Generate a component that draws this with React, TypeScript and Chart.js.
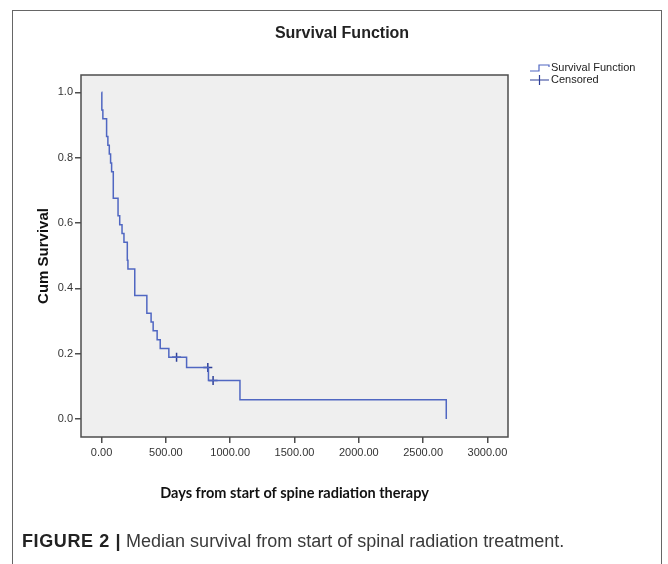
import React, { useEffect, useRef } from 'react';
import { Chart, registerables } from 'chart.js';

Chart.register(...registerables);

// Kaplan-Meier estimate: event times (days) and cumulative survival after each step
const KM_DAYS = [0, 2, 10, 39, 49, 60, 70, 78, 91, 128, 141, 159, 174, 200, 205, 258, 352, 385, 401, 432, 456, 523, 661, 831, 1076, 2680];
const KM_SURV = [1.0, 0.946, 0.919, 0.865, 0.838, 0.811, 0.784, 0.757, 0.676, 0.622, 0.595, 0.568, 0.541, 0.486, 0.459, 0.378, 0.324, 0.297, 0.27, 0.243, 0.216, 0.189, 0.158, 0.118, 0.059, 0.0];

// Censored observations
const CENSOR_DAYS = [583, 826, 867];
const CENSOR_SURV = [0.189, 0.158, 0.118];

const X_TICKS = [0, 500, 1000, 1500, 2000, 2500, 3000];
const Y_TICKS = [0, 0.2, 0.4, 0.6, 0.8, 1.0];

const SERIES_LABELS = ['Survival Function', 'Censored'];
const CHART_TITLE = 'Survival Function';
const X_TITLE = 'Days from start of spine radiation therapy';
const Y_TITLE = 'Cum Survival';
const CAPTION_BOLD = 'FIGURE 2 |';
const CAPTION_TEXT = 'Median survival from start of spinal radiation treatment.';

const LINE_COLOR = '#5067c2';
const CENSOR_COLOR = '#2d3f98';
const AXIS_COLOR = '#4d4d4d';
const PLOT_BG = '#efefef';
const SANS = "'Liberation Sans', Arial, sans-serif";

const plotDecor = {
  id: 'plotDecor',
  beforeDraw(chart: any) {
    const { ctx, chartArea: a } = chart;
    ctx.save();
    ctx.fillStyle = PLOT_BG;
    ctx.fillRect(a.left, a.top, a.right - a.left, a.bottom - a.top);
    ctx.restore();
  },
  afterDraw(chart: any) {
    const { ctx, chartArea: a } = chart;
    ctx.save();
    ctx.strokeStyle = AXIS_COLOR;
    ctx.lineWidth = 1.5;
    ctx.strokeRect(a.left, a.top, a.right - a.left, a.bottom - a.top);

    // legend
    const x0 = a.right + 22;
    const y1 = a.top - 7;
    const y2 = a.top + 5;
    ctx.lineWidth = 1.2;
    ctx.strokeStyle = LINE_COLOR;
    ctx.beginPath();
    ctx.moveTo(x0, y1 + 3);
    ctx.lineTo(x0 + 9, y1 + 3);
    ctx.lineTo(x0 + 9, y1 - 3);
    ctx.lineTo(x0 + 19, y1 - 3);
    ctx.lineTo(x0 + 19, y1 - 1);
    ctx.stroke();
    ctx.strokeStyle = CENSOR_COLOR;
    ctx.beginPath();
    ctx.moveTo(x0, y2);
    ctx.lineTo(x0 + 19, y2);
    ctx.moveTo(x0 + 9.5, y2 - 5);
    ctx.lineTo(x0 + 9.5, y2 + 5);
    ctx.stroke();
    ctx.fillStyle = '#222';
    ctx.font = `11px ${SANS}`;
    ctx.textBaseline = 'middle';
    ctx.textAlign = 'left';
    ctx.fillText(SERIES_LABELS[0], x0 + 21, y1);
    ctx.fillText(SERIES_LABELS[1], x0 + 21, y2);
    ctx.restore();
  },
};

export default function App() {
  const canvasRef = useRef<HTMLCanvasElement | null>(null);

  useEffect(() => {
    const canvas = canvasRef.current;
    if (!canvas) return;
    const chart = new Chart(canvas, {
      type: 'scatter',
      data: {
        datasets: [
          {
            label: SERIES_LABELS[0],
            data: KM_DAYS.map((d, i) => ({ x: d, y: KM_SURV[i] })),
            showLine: true,
            stepped: 'before',
            borderColor: LINE_COLOR,
            borderWidth: 1.5,
            pointRadius: 0,
            fill: false,
          },
          {
            label: SERIES_LABELS[1],
            data: CENSOR_DAYS.map((d, i) => ({ x: d, y: CENSOR_SURV[i] })),
            showLine: false,
            pointStyle: 'cross',
            pointRadius: 4.5,
            borderColor: CENSOR_COLOR,
            borderWidth: 1.5,
          },
        ],
      } as any,
      plugins: [plotDecor],
      options: {
        responsive: false,
        animation: false,
        devicePixelRatio: 1,
        layout: { padding: { left: 0, top: 75, right: 160, bottom: 0 } },
        plugins: {
          legend: { display: false },
          title: { display: false },
          tooltip: { enabled: false },
        },
        scales: {
          x: {
            type: 'linear',
            min: -160,
            max: 3160,
            afterFit: (s: any) => { s.height = 127; },
            afterBuildTicks: (s: any) => { s.ticks = X_TICKS.map((v) => ({ value: v })); },
            border: { display: false },
            grid: { display: true, drawOnChartArea: false, drawTicks: true, tickLength: 6, color: AXIS_COLOR, lineWidth: 1.5 },
            ticks: {
              padding: 3,
              color: '#333',
              font: { family: SANS, size: 11 },
              callback: (v: any) => Number(v).toFixed(2),
            },
            title: {
              display: true,
              text: X_TITLE,
              color: '#111',
              font: { family: "Lato, 'Open Sans', sans-serif", size: 14.5, weight: 'bold' },
              padding: { top: 0, bottom: 62 },
            },
          },
          y: {
            type: 'linear',
            min: -0.055,
            max: 1.053,
            afterFit: (s: any) => { s.width = 81; },
            afterBuildTicks: (s: any) => { s.ticks = Y_TICKS.map((v) => ({ value: v })); },
            border: { display: false },
            grid: { display: true, drawOnChartArea: false, drawTicks: true, tickLength: 6, color: AXIS_COLOR, lineWidth: 1.5 },
            ticks: {
              padding: 2,
              color: '#333',
              font: { family: SANS, size: 11 },
              callback: (v: any) => Number(v).toFixed(1),
            },
            title: {
              display: true,
              text: Y_TITLE,
              color: '#111',
              font: { family: SANS, size: 15, weight: 'bold' },
              padding: { top: 35, bottom: 0 },
            },
          },
        },
      } as any,
    });
    return () => chart.destroy();
  }, []);

  return (
    <div style={{ position: 'absolute', left: 0, top: 0, width: 668, height: 564, background: '#fff', overflow: 'hidden' }}>
      <div style={{ position: 'absolute', left: 12, top: 10, width: 650, height: 600, borderTop: '1px solid #666', borderLeft: '1px solid #666', borderRight: '1px solid #666', boxSizing: 'border-box' }} />
      <canvas ref={canvasRef} width={668} height={564} style={{ position: 'absolute', left: 0, top: 0, width: 668, height: 564 }} />
      <div style={{ position: 'absolute', left: 0, top: 23, width: 684, textAlign: 'center', font: `bold 16px/20px ${SANS}`, color: '#222' }}>{CHART_TITLE}</div>
      <div style={{ position: 'absolute', left: 22, top: 531, whiteSpace: 'nowrap', font: `18px/20px ${SANS}`, color: '#3a3a3a' }}>
        <span style={{ fontWeight: 'bold', color: '#222', letterSpacing: '0.6px' }}>{CAPTION_BOLD}</span> {CAPTION_TEXT}
      </div>
    </div>
  );
}
